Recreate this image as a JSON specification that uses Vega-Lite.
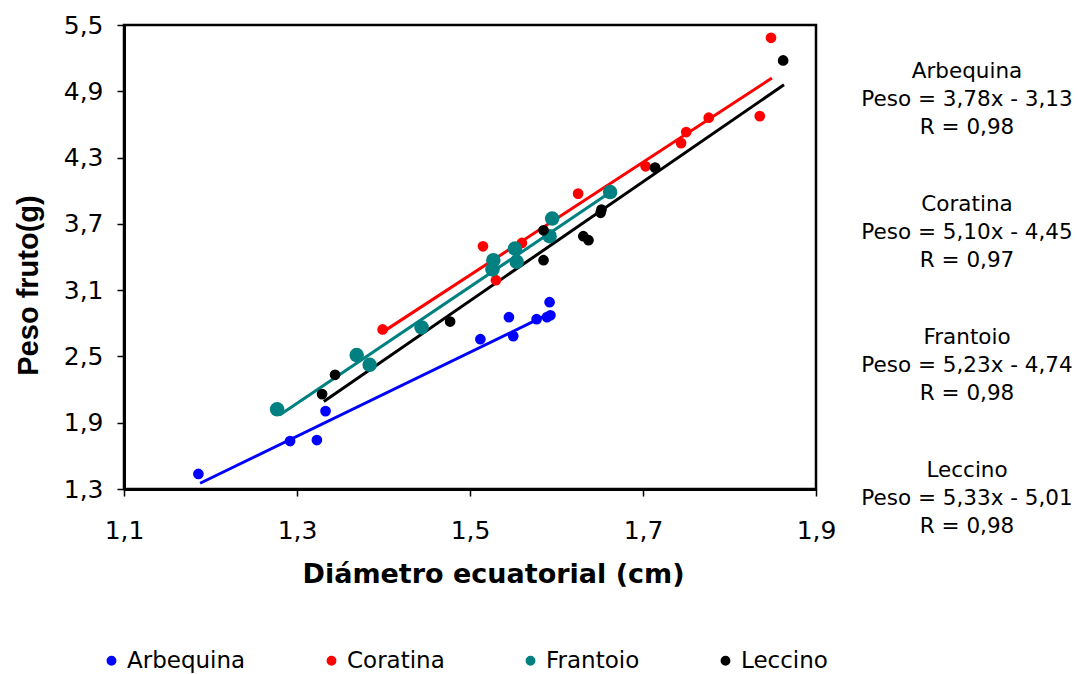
{
  "$schema": "https://vega.github.io/schema/vega-lite/v6.json",
  "width": 692,
  "height": 464,
  "autosize": {"type": "none"},
  "padding": {"left": 124, "top": 25, "right": 262, "bottom": 185},
  "background": "white",
  "config": {
    "view": {"stroke": "black", "strokeWidth": 2.5},
    "font": "DejaVu Sans"
  },
  "datasets": {
    "points": [
      {"cultivar": "Arbequina", "diametro": 1.186, "peso": 1.436},
      {"cultivar": "Arbequina", "diametro": 1.292, "peso": 1.734},
      {"cultivar": "Arbequina", "diametro": 1.323, "peso": 1.743},
      {"cultivar": "Arbequina", "diametro": 1.333, "peso": 2.005},
      {"cultivar": "Arbequina", "diametro": 1.512, "peso": 2.656},
      {"cultivar": "Arbequina", "diametro": 1.545, "peso": 2.855},
      {"cultivar": "Arbequina", "diametro": 1.55, "peso": 2.684},
      {"cultivar": "Arbequina", "diametro": 1.577, "peso": 2.837},
      {"cultivar": "Arbequina", "diametro": 1.589, "peso": 2.856},
      {"cultivar": "Arbequina", "diametro": 1.593, "peso": 2.872},
      {"cultivar": "Arbequina", "diametro": 1.592, "peso": 2.991},
      {"cultivar": "Coratina", "diametro": 1.399, "peso": 2.744},
      {"cultivar": "Coratina", "diametro": 1.515, "peso": 3.497},
      {"cultivar": "Coratina", "diametro": 1.53, "peso": 3.19},
      {"cultivar": "Coratina", "diametro": 1.56, "peso": 3.527},
      {"cultivar": "Coratina", "diametro": 1.625, "peso": 3.974},
      {"cultivar": "Coratina", "diametro": 1.703, "peso": 4.221},
      {"cultivar": "Coratina", "diametro": 1.744, "peso": 4.431},
      {"cultivar": "Coratina", "diametro": 1.75, "peso": 4.531},
      {"cultivar": "Coratina", "diametro": 1.776, "peso": 4.661},
      {"cultivar": "Coratina", "diametro": 1.835, "peso": 4.675},
      {"cultivar": "Coratina", "diametro": 1.848, "peso": 5.384},
      {"cultivar": "Frantoio", "diametro": 1.277, "peso": 2.021},
      {"cultivar": "Frantoio", "diametro": 1.369, "peso": 2.512},
      {"cultivar": "Frantoio", "diametro": 1.384, "peso": 2.424},
      {"cultivar": "Frantoio", "diametro": 1.444, "peso": 2.762},
      {"cultivar": "Frantoio", "diametro": 1.526, "peso": 3.287},
      {"cultivar": "Frantoio", "diametro": 1.527, "peso": 3.371},
      {"cultivar": "Frantoio", "diametro": 1.552, "peso": 3.476},
      {"cultivar": "Frantoio", "diametro": 1.554, "peso": 3.356},
      {"cultivar": "Frantoio", "diametro": 1.592, "peso": 3.588},
      {"cultivar": "Frantoio", "diametro": 1.595, "peso": 3.748},
      {"cultivar": "Frantoio", "diametro": 1.662, "peso": 3.988},
      {"cultivar": "Leccino", "diametro": 1.329, "peso": 2.159},
      {"cultivar": "Leccino", "diametro": 1.344, "peso": 2.334},
      {"cultivar": "Leccino", "diametro": 1.477, "peso": 2.816},
      {"cultivar": "Leccino", "diametro": 1.585, "peso": 3.371},
      {"cultivar": "Leccino", "diametro": 1.585, "peso": 3.642},
      {"cultivar": "Leccino", "diametro": 1.631, "peso": 3.588},
      {"cultivar": "Leccino", "diametro": 1.637, "peso": 3.552},
      {"cultivar": "Leccino", "diametro": 1.651, "peso": 3.8},
      {"cultivar": "Leccino", "diametro": 1.652, "peso": 3.83},
      {"cultivar": "Leccino", "diametro": 1.714, "peso": 4.209},
      {"cultivar": "Leccino", "diametro": 1.862, "peso": 5.179}
    ],
    "fits": [
      {"cultivar": "Arbequina", "diametro": 1.188, "peso": 1.352},
      {"cultivar": "Arbequina", "diametro": 1.59, "peso": 2.88},
      {"cultivar": "Coratina", "diametro": 1.399, "peso": 2.72},
      {"cultivar": "Coratina", "diametro": 1.849, "peso": 5.02},
      {"cultivar": "Frantoio", "diametro": 1.28, "peso": 1.969},
      {"cultivar": "Frantoio", "diametro": 1.657, "peso": 3.958},
      {"cultivar": "Leccino", "diametro": 1.331, "peso": 2.093},
      {"cultivar": "Leccino", "diametro": 1.863, "peso": 4.959}
    ],
    "notes": [
      {"cultivar": "Arbequina", "label": "Arbequina\nPeso = 3,78x - 3,13\nR = 0,98"},
      {"cultivar": "Coratina", "label": "Coratina\nPeso = 5,10x - 4,45\nR = 0,97"},
      {"cultivar": "Frantoio", "label": "Frantoio\nPeso  = 5,23x - 4,74\nR = 0,98"},
      {"cultivar": "Leccino", "label": "Leccino\nPeso  = 5,33x - 5,01\nR = 0,98"}
    ]
  },
  "layer": [
    {
      "layer": [
        {
          "data": {"name": "fits"},
          "mark": {"type": "line", "strokeWidth": 3},
          "encoding": {
            "x": {"field": "diametro", "type": "quantitative"},
            "y": {"field": "peso", "type": "quantitative"},
            "color": {"field": "cultivar", "type": "nominal"},
            "detail": {"field": "cultivar"}
          }
        },
        {
          "data": {"name": "points"},
          "mark": {"type": "circle", "opacity": 1},
          "encoding": {
            "x": {
              "field": "diametro",
              "type": "quantitative",
              "scale": {"domain": [1.1, 1.9], "nice": false, "zero": false},
              "axis": {
                "values": [1.1, 1.3, 1.5, 1.7, 1.9],
                "labelExpr": "replace(format(datum.value, '.1f'), '.', ',')",
                "grid": false,
                "tickSize": 7,
                "tickColor": "black",
                "tickWidth": 1.5,
                "domainColor": "black",
                "domainWidth": 3,
                "labelFont": "DejaVu Sans",
                "labelFontSize": 25,
                "labelColor": "black",
                "labelPadding": 22,
                "labelFlush": false,
                "title": "Diámetro ecuatorial (cm)",
                "titleFont": "DejaVu Sans",
                "titleFontWeight": "bold",
                "titleFontSize": 27,
                "titleColor": "black",
                "titleX": 369,
                "titleY": 85,
                "titleAlign": "center",
                "titleBaseline": "middle"
              }
            },
            "y": {
              "field": "peso",
              "type": "quantitative",
              "scale": {"domain": [1.3, 5.5], "nice": false, "zero": false},
              "axis": {
                "values": [1.3, 1.9, 2.5, 3.1, 3.7, 4.3, 4.9, 5.5],
                "labelExpr": "replace(format(datum.value, '.1f'), '.', ',')",
                "grid": false,
                "tickSize": 7,
                "tickColor": "black",
                "tickWidth": 1.5,
                "domainColor": "black",
                "domainWidth": 3,
                "labelFont": "DejaVu Sans",
                "labelFontSize": 25,
                "labelColor": "black",
                "labelPadding": 14,
                "labelFlush": false,
                "title": "Peso fruto(g)",
                "titleFont": "Liberation Sans",
                "titleFontWeight": "bold",
                "titleFontSize": 29,
                "titleColor": "black",
                "titleX": -96,
                "titleY": 260,
                "titleAngle": -90,
                "titleAlign": "center",
                "titleBaseline": "middle"
              }
            },
            "color": {
              "field": "cultivar",
              "type": "nominal",
              "scale": {
                "domain": ["Arbequina", "Coratina", "Frantoio", "Leccino"],
                "range": ["#0000FF", "#FF0000", "#008080", "#000000"]
              },
              "legend": {
                "title": null,
                "orient": "none",
                "direction": "horizontal",
                "legendX": -24,
                "legendY": 624,
                "symbolType": "circle",
                "symbolSize": 70,
                "labelFont": "DejaVu Sans",
                "labelFontSize": 23,
                "labelColor": "black",
                "labelOffset": 4,
                "columnPadding": 74,
                "labelLimit": 300,
                "encode": {
                  "symbols": {
                    "update": {
                      "size": {"signal": "datum.value === 'Frantoio' ? 125 : 65"},
                      "fill": {"scale": "color", "field": "value"},
                      "stroke": {"value": "transparent"},
                      "opacity": {"value": 1}
                    }
                  }
                }
              }
            },
            "size": {
              "condition": {"test": "datum.cultivar === 'Frantoio'", "value": 210},
              "value": 115
            }
          }
        }
      ]
    },
    {
      "data": {"name": "notes"},
      "mark": {
        "type": "text",
        "lineBreak": "\n",
        "font": "DejaVu Sans",
        "fontSize": 21.5,
        "lineHeight": 28,
        "align": "center",
        "baseline": "middle",
        "color": "black"
      },
      "encoding": {
        "x": {"datum": 2.0746, "type": "quantitative"},
        "y": {
          "field": "cultivar",
          "type": "nominal",
          "scale": {"type": "point", "range": [47, 446], "padding": 0},
          "axis": null
        },
        "text": {"field": "label"}
      }
    }
  ],
  "resolve": {"scale": {"y": "independent"}}
}
